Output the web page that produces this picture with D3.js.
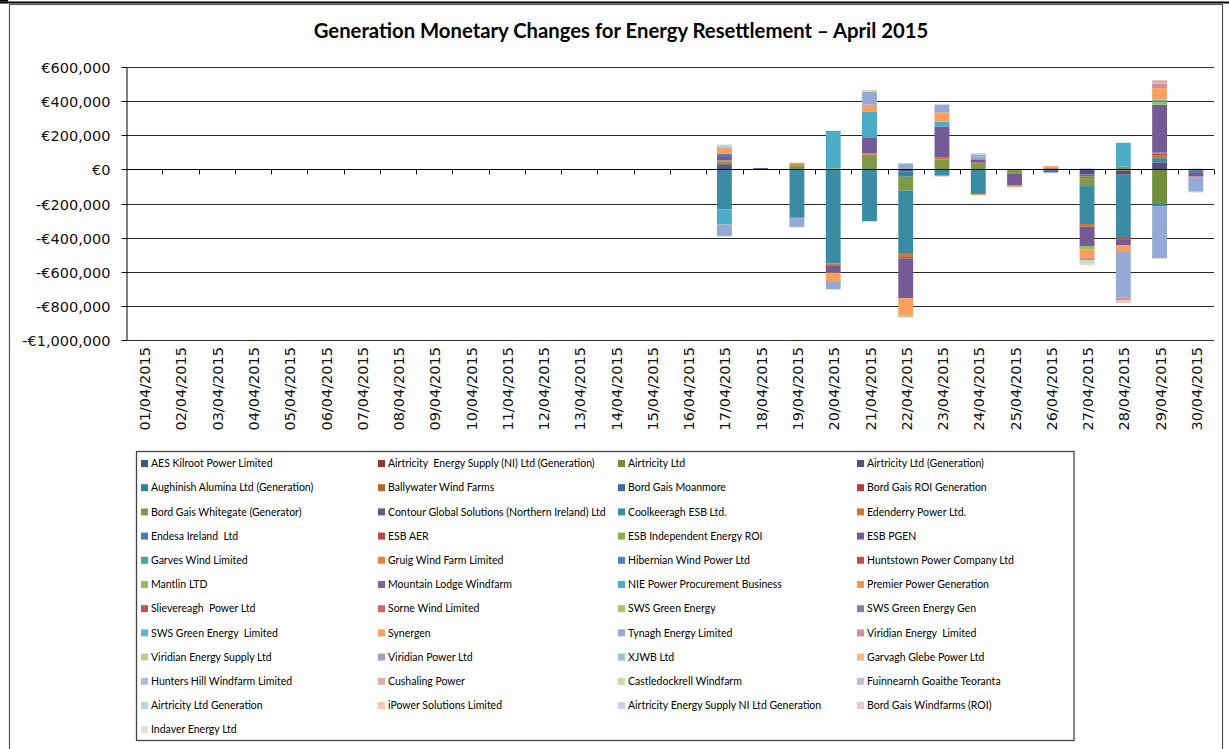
<!DOCTYPE html>
<html><head><meta charset="utf-8">
<script src="https://cdn.jsdelivr.net/npm/d3@7"></script>
<style>
html,body{margin:0;padding:0;background:#fff;}
svg{display:block;}
</style></head>
<body>
<svg id="chart" width="1229" height="749"></svg>
<script>
// ---------- DATA ----------
const titleText = "Generation Monetary Changes for Energy Resettlement \u2013 April 2015";
const dates = ["01/04/2015","02/04/2015","03/04/2015","04/04/2015","05/04/2015","06/04/2015","07/04/2015","08/04/2015","09/04/2015","10/04/2015","11/04/2015","12/04/2015","13/04/2015","14/04/2015","15/04/2015","16/04/2015","17/04/2015","18/04/2015","19/04/2015","20/04/2015","21/04/2015","22/04/2015","23/04/2015","24/04/2015","25/04/2015","26/04/2015","27/04/2015","28/04/2015","29/04/2015","30/04/2015"];
const yTicks = [600000,400000,200000,0,-200000,-400000,-600000,-800000,-1000000];
const seriesNames = [
"AES Kilroot Power Limited","Airtricity  Energy Supply (NI) Ltd (Generation)","Airtricity Ltd","Airtricity Ltd (Generation)",
"Aughinish Alumina Ltd (Generation)","Ballywater Wind Farms","Bord Gais Moanmore","Bord Gais ROI Generation",
"Bord Gais Whitegate (Generator)","Contour Global Solutions (Northern Ireland) Ltd","Coolkeeragh ESB Ltd.","Edenderry Power Ltd.",
"Endesa Ireland  Ltd","ESB AER","ESB Independent Energy ROI","ESB PGEN",
"Garves Wind Limited","Gruig Wind Farm Limited","Hibernian Wind Power Ltd","Huntstown Power Company Ltd",
"Mantlin LTD","Mountain Lodge Windfarm","NIE Power Procurement Business","Premier Power Generation",
"Slievereagh  Power Ltd","Sorne Wind Limited","SWS Green Energy","SWS Green Energy Gen",
"SWS Green Energy  Limited","Synergen","Tynagh Energy Limited","Viridian Energy  Limited",
"Viridian Energy Supply Ltd","Viridian Power Ltd","XJWB Ltd","Garvagh Glebe Power Ltd",
"Hunters Hill Windfarm Limited","Cushaling Power","Castledockrell Windfarm","Fuinnearnh Goaithe Teoranta",
"Airtricity Ltd Generation","iPower Solutions Limited","Airtricity Energy Supply NI Ltd Generation","Bord Gais Windfarms (ROI)",
"Indaver Energy Ltd"];
const seriesColors = [
"#3B5B8C","#8E3A38","#738D3E","#5F4A7E",
"#33849A","#B4672E","#4169A1","#A5403E",
"#7E9A48","#6A5389","#3A8CA3","#D0762F",
"#4A78B5","#B64A48","#8CAD4F","#745B96",
"#44A2BC","#E5843A","#4F81BD","#C0504D",
"#9BBB59","#8064A2","#4BACC6","#F79646",
"#C55450","#C96A68","#A7C46F","#8E7AB0",
"#62B5CE","#F9A05E","#94A9D4","#D29190",
"#B6CE8F","#A99BC3","#92C6D8","#FAB78C",
"#AFBEDD","#DDAEAE","#C9DBAE","#C4B9D6",
"#AFD7E3","#FBCAA9","#C8D1E7","#E6C9C9",
"#D9E4C9"];
// one row per series, one value per day (01/04 .. 30/04)
const seriesValues = [
/* 1*/[0,0,0,0,0,0,0,0,0,0,0,0,0,0,0,0, 15000,0,0,0,0,0,0,0,0,0,0,0,14000,0],
/* 2*/[0,0,0,0,0,0,0,0,0,0,0,0,0,0,0,0, 0,0,0,0,0,0,0,0,0,0,0,0,0,0],
/* 3*/[0,0,0,0,0,0,0,0,0,0,0,0,0,0,0,0, 0,0,0,0,0,0,0,0,0,0,0,-8000,-203000,0],
/* 4*/[0,0,0,0,0,0,0,0,0,0,0,0,0,0,0,0, 15000,0,0,0,0,-12000,0,0,0,0,-29000,-23000,27000,0],
/* 5*/[0,0,0,0,0,0,0,0,0,0,0,0,0,0,0,0, 0,0,0,0,0,-31000,0,0,0,0,-12000,0,-14000,0],
/* 6*/[0,0,0,0,0,0,0,0,0,0,0,0,0,0,0,0, 0,0,0,0,0,0,0,0,0,0,-10000,0,0,0],
/* 7*/[0,0,0,0,0,0,0,0,0,0,0,0,0,0,0,0, 0,0,0,0,0,0,0,0,0,0,0,0,0,0],
/* 8*/[0,0,0,0,0,0,0,0,0,0,0,0,0,0,0,0, 0,0,0,0,0,0,0,0,0,0,0,0,0,0],
/* 9*/[0,0,0,0,0,0,0,0,0,0,0,0,0,0,0,0, 15000,-3000,23000,5000,86000,-82000,58000,35000,-23000,0,-47000,16000,0,0],
/*10*/[0,0,0,0,0,0,0,0,0,0,0,0,0,0,0,0, 0,0,0,0,0,0,0,0,0,0,0,0,0,0],
/*11*/[0,0,0,0,0,0,0,0,0,0,0,0,0,0,0,0, -234000,0,-283000,-552000,-304000,-370000,-37000,-144000,0,0,-222000,-366000,25000,-16000],
/*12*/[0,0,0,0,0,0,0,0,0,0,0,0,0,0,0,0, 8000,0,8000,-10000,8000,-19000,14000,0,0,6000,-16000,0,14000,0],
/*13*/[0,0,0,0,0,0,0,0,0,0,0,0,0,0,0,0, 0,0,0,0,0,0,0,0,0,0,0,0,0,0],
/*14*/[0,0,0,0,0,0,0,0,0,0,0,0,0,0,0,0, 0,0,0,0,0,-8000,0,6000,0,5000,0,-16000,10000,0],
/*15*/[0,0,0,0,0,0,0,0,0,0,0,0,0,0,0,0, 0,0,0,0,0,0,0,0,0,0,0,0,8000,0],
/*16*/[0,0,0,0,0,0,0,0,0,0,0,0,0,0,0,0, 25000,8000,-3000,-43000,94000,-234000,179000,18000,-72000,-15000,-113000,-33000,281000,-27000],
/*17*/[0,0,0,0,0,0,0,0,0,0,0,0,0,0,0,0, 0,0,0,0,0,0,0,0,0,0,0,0,0,0],
/*18*/[0,0,0,0,0,0,0,0,0,0,0,0,0,0,0,0, 0,0,0,0,0,0,0,0,0,0,0,0,0,0],
/*19*/[0,0,0,0,0,0,0,0,0,0,0,0,0,0,0,0, 13000,0,0,0,0,0,0,0,0,0,0,0,0,0],
/*20*/[0,0,0,0,0,0,0,0,0,0,0,0,0,0,0,0, 0,0,0,0,0,0,0,0,0,0,0,0,0,0],
/*21*/[0,0,0,0,0,0,0,0,0,0,0,0,0,0,0,0, 0,0,0,0,0,0,0,0,0,0,-19000,0,19000,0],
/*22*/[0,0,0,0,0,0,0,0,0,0,0,0,0,0,0,0, 0,0,0,0,0,0,0,0,0,0,0,0,0,0],
/*23*/[0,0,0,0,0,0,0,0,0,0,0,0,0,0,0,0, -88000,0,0,220000,152000,0,29000,0,0,-5000,0,140000,0,0],
/*24*/[0,0,0,0,0,0,0,0,0,0,0,0,0,0,0,0, 0,0,0,0,0,0,0,0,0,0,0,0,0,0],
/*25*/[0,0,0,0,0,0,0,0,0,0,0,0,0,0,0,0, 0,0,0,0,0,0,0,0,0,0,0,0,0,0],
/*26*/[0,0,0,0,0,0,0,0,0,0,0,0,0,0,0,0, 0,0,0,0,0,0,0,0,0,0,0,0,0,0],
/*27*/[0,0,0,0,0,0,0,0,0,0,0,0,0,0,0,0, 0,0,0,0,0,0,0,0,0,0,0,0,0,0],
/*28*/[0,0,0,0,0,0,0,0,0,0,0,0,0,0,0,0, 0,0,0,0,0,0,0,0,0,0,0,0,0,0],
/*29*/[0,0,0,0,0,0,0,0,0,0,0,0,0,0,0,0, 0,0,0,0,0,0,0,0,0,0,5000,0,12000,0],
/*30*/[0,0,0,0,0,0,0,0,0,0,0,0,0,0,0,0, 39000,0,8000,-55000,39000,-97000,55000,-6000,-8000,8000,-47000,-33000,66000,-8000],
/*31*/[0,0,0,0,0,0,0,0,0,0,0,0,0,0,0,0, -70000,0,-51000,-43000,76000,35000,43000,16000,0,0,0,-273000,-304000,-80000],
/*32*/[0,0,0,0,0,0,0,0,0,0,0,0,0,0,0,0, 0,0,-2000,0,0,0,-4000,0,0,0,-16000,-16000,27000,0],
/*33*/[0,0,0,0,0,0,0,0,0,0,0,0,0,0,0,0, 0,0,0,0,0,-14000,0,0,0,0,0,0,0,0],
/*34*/[0,0,0,0,0,0,0,0,0,0,0,0,0,0,0,0, 0,0,0,0,0,0,0,10000,0,0,0,0,0,0],
/*35*/[0,0,0,0,0,0,0,0,0,0,0,0,0,0,0,0, 0,0,0,0,0,0,0,0,0,0,0,0,0,0],
/*36*/[0,0,0,0,0,0,0,0,0,0,0,0,0,0,0,0, 0,0,0,0,0,0,0,0,0,0,0,0,0,0],
/*37*/[0,0,0,0,0,0,0,0,0,0,0,0,0,0,0,0, 0,0,0,0,0,0,0,0,0,0,0,0,0,0],
/*38*/[0,0,0,0,0,0,0,0,0,0,0,0,0,0,0,0, 0,0,0,0,0,0,0,0,0,0,0,0,19000,5000],
/*39*/[0,0,0,0,0,0,0,0,0,0,0,0,0,0,0,0, 0,0,0,0,10000,0,0,0,0,0,-10000,0,0,0],
/*40*/[0,0,0,0,0,0,0,0,0,0,0,0,0,0,0,0, 0,0,0,0,0,0,0,0,0,0,0,0,0,0],
/*41*/[0,0,0,0,0,0,0,0,0,0,0,0,0,0,0,0, 15000,0,0,0,0,0,4000,10000,0,0,-10000,0,0,0],
/*42*/[0,0,0,0,0,0,0,0,0,0,0,0,0,0,0,0, 0,0,0,0,0,0,0,0,0,0,-8000,0,0,0],
/*43*/[0,0,0,0,0,0,0,0,0,0,0,0,0,0,0,0, 0,0,0,0,0,0,0,0,0,0,0,0,0,0],
/*44*/[0,0,0,0,0,0,0,0,0,0,0,0,0,0,0,0, 0,0,0,0,0,0,0,0,0,0,0,-16000,0,0],
/*45*/[0,0,0,0,0,0,0,0,0,0,0,0,0,0,0,0, 0,0,3000,4000,0,0,0,0,0,0,0,0,-4000,-5000]
];

// ---------- CHART ----------
const svg = d3.select("#chart");
const W = 1229, H = 749;
const plot = {left:126, right:1214, top:67, bottom:340};

// frame
svg.append("rect").attr("x",9.5).attr("y",4.5).attr("width",1213).attr("height",760)
  .attr("fill","#fff").attr("stroke","#555").attr("stroke-width",1.2);
svg.append("line").attr("x1",0).attr("x2",W).attr("y1",2.5).attr("y2",2.5)
  .attr("stroke","#000").attr("stroke-width",2);
svg.append("line").attr("x1",0).attr("x2",8).attr("y1",0.5).attr("y2",0.5)
  .attr("stroke","#000").attr("stroke-width",2);

// title
const title = svg.append("text").attr("x",621).attr("y",38).attr("text-anchor","middle")
  .attr("font-family","Lato, 'Open Sans', sans-serif").attr("font-weight","bold")
  .attr("font-size",18).attr("fill","#000").text(titleText);
{
  const len = title.node().getComputedTextLength();
  title.attr("font-size", 18*615/len);
}

const x = d3.scaleBand().domain(dates).range([plot.left, plot.right]).padding(0);
const y = d3.scaleLinear().domain([-1000000, 600000]).range([plot.bottom, plot.top]);

// gridlines
svg.append("g").selectAll("line").data(yTicks.filter(v=>v!==0)).join("line")
  .attr("x1",plot.left).attr("x2",plot.right)
  .attr("y1",d=>Math.round(y(d))+0.5).attr("y2",d=>Math.round(y(d))+0.5)
  .attr("stroke","#2a2a2a").attr("stroke-width",1);

// y axis
const fmt = v => (v<0?"-":"") + "\u20AC" + d3.format(",")(Math.abs(v));
const yAxis = d3.axisLeft(y).tickValues(yTicks).tickFormat(fmt).tickSize(5).tickSizeOuter(0);
const gy = svg.append("g").attr("transform",`translate(${plot.left+0.5},0)`).call(yAxis);
gy.select(".domain").attr("stroke","#000");
gy.selectAll(".tick line").attr("stroke","#000");
gy.selectAll(".tick text").attr("font-family","'DejaVu Sans', Verdana, sans-serif")
  .attr("font-size",14.5).attr("fill","#111").attr("x",-16).attr("dy","0.35em");
gy.selectAll(".tick").attr("transform",d=>`translate(0,${Math.round(y(d))+0.5})`);

// stacked bars
const keys = d3.range(seriesNames.length);
const rows = dates.map((d,i)=>{ const o={date:d}; keys.forEach(k=>o[k]=seriesValues[k][i]); return o; });
const stacked = d3.stack().keys(keys).offset(d3.stackOffsetDiverging)(rows);
const bw = x.step()*0.41;
const gBars = svg.append("g");
stacked.forEach(layer=>{
  gBars.append("g").attr("fill",seriesColors[layer.key])
    .selectAll("rect").data(layer.filter(d=>d[1]!==d[0])).join("rect")
    .attr("x",d=>x(d.data.date)+x.bandwidth()/2-bw/2)
    .attr("width",bw)
    .attr("y",d=>y(Math.max(d[0],d[1])))
    .attr("height",d=>Math.abs(y(d[0])-y(d[1])));
});

// zero axis with ticks between categories
const y0 = Math.round(y(0))+0.5;
svg.append("line").attr("x1",plot.left).attr("x2",plot.right).attr("y1",y0).attr("y2",y0)
  .attr("stroke","#000").attr("stroke-width",1);
svg.append("g").selectAll("line").data(dates.slice(1).concat(["end"])).join("line")
  .attr("x1",(d,i)=>Math.round(plot.left + (i+1)*x.step())+0.5)
  .attr("x2",(d,i)=>Math.round(plot.left + (i+1)*x.step())+0.5)
  .attr("y1",y0).attr("y2",y0+5).attr("stroke","#000");

// x labels
svg.append("g").selectAll("text").data(dates).join("text")
  .attr("transform",d=>`translate(${x(d)+x.bandwidth()/2+1},347) rotate(-90)`)
  .attr("text-anchor","end").attr("dy","0.35em")
  .attr("font-family","'DejaVu Sans', Verdana, sans-serif").attr("font-size",14.5)
  .attr("fill","#111").text(d=>d);

// legend
const lg = svg.append("g");
lg.append("rect").attr("x",136.5).attr("y",451.5).attr("width",937.5).attr("height",289)
  .attr("fill","#fff").attr("stroke","#444").attr("stroke-width",1.3);
const colX = [141, 378, 618, 857];
const rowY0 = 463.5, rowStep = 24.2;
seriesNames.forEach((name,i)=>{
  const c = i%4, r = Math.floor(i/4);
  const cx = colX[c], cy = rowY0 + r*rowStep;
  lg.append("rect").attr("x",cx).attr("y",cy-3.5).attr("width",7).attr("height",7)
    .attr("fill",seriesColors[i]);
  lg.append("text").attr("x",cx+10).attr("y",cy).attr("dy","0.35em")
    .attr("font-family","Lato, 'Open Sans', sans-serif").attr("font-size",10.5)
    .attr("fill","#000").style("white-space","pre").text(name);
});
</script>
</body></html>
